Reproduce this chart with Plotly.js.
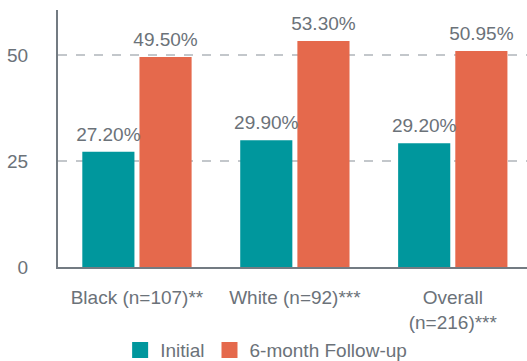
<!DOCTYPE html>
<html>
<head>
<meta charset="utf-8">
<script src="https://cdn.plot.ly/plotly-3.0.1.min.js"></script>
<style>html,body{margin:0;padding:0;background:#fff;}#chart{width:527px;height:361px;}</style>
</head>
<body>
<div id="chart"></div>
<script>
var categories = ["Black (n=107)**", "White (n=92)***", "Overall<br>(n=216)***"];
var initialValues = [27.20, 29.90, 29.20];
var followupValues = [49.50, 53.30, 50.95];
var seriesNames = ["Initial", "6-month Follow-up"];
var seriesColors = ["#00979d", "#e5694c"];
var yTicks = [0, 25, 50];

var textColor = "#6b7279";
var fontFam = "Liberation Sans, Arial, sans-serif";
var fs = 19;
var seriesValues = [initialValues, followupValues];

var traces = [];
seriesValues.forEach(function(vals, i) {
  traces.push({type: "bar", name: seriesNames[i], x: categories, y: vals, showlegend: false,
    offsetgroup: "g" + i, marker: {color: seriesColors[i]}, hoverinfo: "none"});
});
seriesValues.forEach(function(vals, i) {
  traces.push({type: "scatter", mode: "markers+text", x: categories, y: vals, showlegend: false,
    offsetgroup: "g" + i, marker: {size: 8, opacity: 0, color: seriesColors[i]},
    texttemplate: "%{y:.2f}%", textposition: "top center", cliponaxis: false,
    textfont: {color: textColor, size: fs, family: fontFam}, hoverinfo: "none"});
});
seriesValues.forEach(function(vals, i) {
  traces.push({type: "scatter", mode: "markers", name: seriesNames[i], x: [null], y: [null],
    offsetgroup: "g" + i, marker: {symbol: "square", size: 18, color: seriesColors[i]}, hoverinfo: "none"});
});

var layout = {
  width: 527, height: 361,
  margin: {l: 58, r: 0, t: 10, b: 94},
  paper_bgcolor: "#fff", plot_bgcolor: "#fff",
  font: {family: fontFam, size: fs, color: textColor},
  barmode: "group", bargap: 0.276, bargroupgap: 0.088,
  scattermode: "group", scattergap: 0.276,
  showlegend: true,
  legend: {orientation: "h", xref: "container", yref: "container", x: 0.505, xanchor: "center",
           y: 0.03, yanchor: "middle", font: {size: fs, color: textColor, family: fontFam}},
  xaxis: {range: [-0.5, 2.47], showline: true, linecolor: "#737b82", linewidth: 2,
          ticks: "", showgrid: false, tickfont: {size: fs, color: textColor}, ticklabelstandoff: 12,
          automargin: false, fixedrange: true},
  yaxis: {range: [0, 60.6], tickvals: yTicks, ticktext: yTicks.map(String),
          showline: true, linecolor: "#737b82", linewidth: 2, ticks: "",
          showgrid: true, gridcolor: "#c3c7cb", griddash: "dash", gridwidth: 1.5,
          zeroline: false, tickfont: {size: fs, color: textColor}, ticklabelstandoff: 24,
          automargin: false, fixedrange: true}
};

Plotly.newPlot("chart", traces, layout, {displayModeBar: false, staticPlot: true}).then(function(gd){
  Plotly.relayout(gd, {"xaxis.range": [-0.5, 2.47]});
});
</script>
</body>
</html>
